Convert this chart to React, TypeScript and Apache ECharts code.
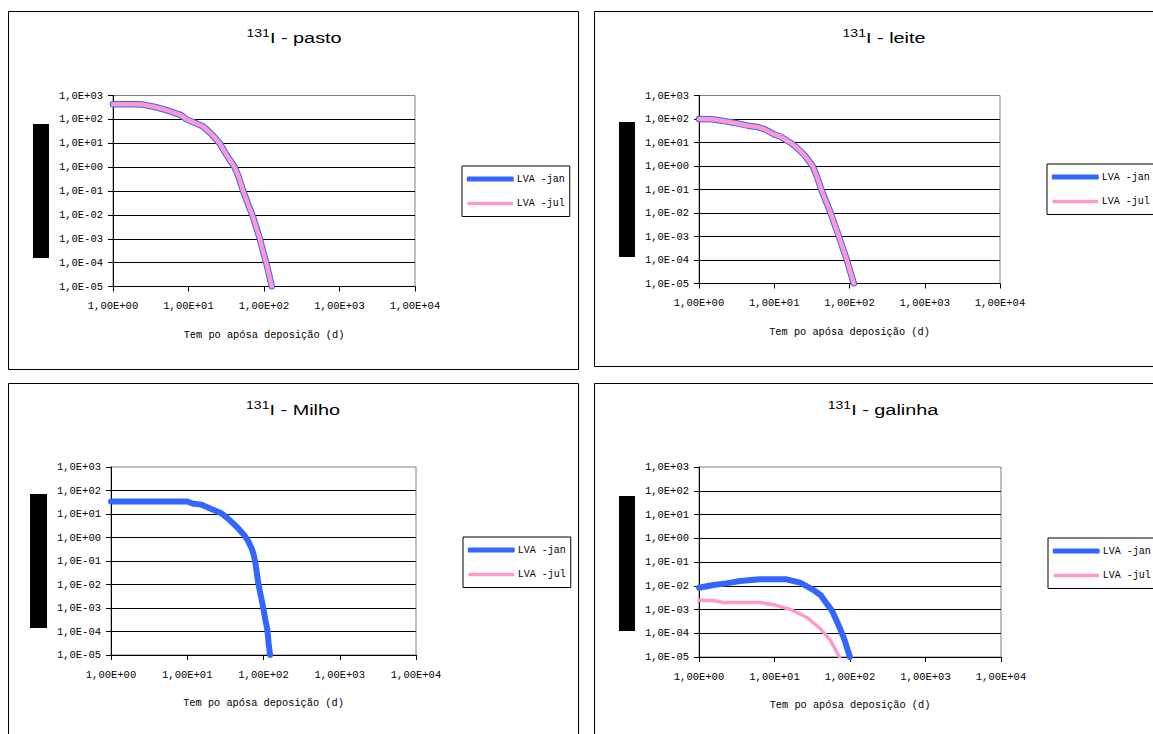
import React, { useEffect, useRef } from "react";
import * as echarts from "echarts";

// Tick labels for the log axes (decades)
const X_TICKS = ["1,00E+00", "1,00E+01", "1,00E+02", "1,00E+03", "1,00E+04"];
const Y_TICKS = [
  "1,0E-05", "1,0E-04", "1,0E-03", "1,0E-02", "1,0E-01",
  "1,0E+00", "1,0E+01", "1,0E+02", "1,0E+03",
];
const SERIES_NAMES = ["LVA -jan", "LVA -jul"];
const X_TITLE = "Tem po apósa deposição (d)";
const ISOTOPE = "131";
const PANEL_NAMES = ["pasto", "leite", "Milho", "galinha"];

// [days after deposition, concentration]
const pastoJan = [
  [1, 430], [2, 430], [2.5, 415], [3.6, 330], [5, 250], [8, 150], [9.4, 100],
  [13, 65], [15.6, 50], [20, 25], [25.8, 10], [32, 3.2], [40.7, 1], [46, 0.4],
  [53, 0.1], [61, 0.03], [70, 0.01], [79, 0.003], [88, 1e-3], [97, 3e-4],
  [107, 1e-4], [117, 3e-5], [127, 1e-5],
];
const pastoJul = [
  [1, 430], [2, 430], [2.5, 415], [3.6, 330], [5, 250], [8, 150], [9.4, 100],
  [13, 65], [15.6, 50], [20, 25], [25.8, 10], [32, 3.2], [40.7, 1], [46, 0.4],
  [53, 0.1], [61, 0.03], [70, 0.01], [79, 0.003], [88, 1e-3], [97, 3e-4],
  [107, 1e-4], [117, 3e-5], [127, 1e-5],
];
const leiteJan = [
  [1, 100], [1.5, 97], [2, 85], [3, 68], [4.5, 52], [6, 46], [7.5, 36],
  [10, 22], [12, 18], [16.3, 10], [20, 6], [25, 3], [32.4, 1], [37, 0.35],
  [42.2, 0.1], [49, 0.03], [56.2, 0.01], [64, 0.003], [72.4, 1e-3], [82, 3e-4],
  [92.3, 1e-4], [103, 3e-5], [114, 1e-5],
];
const leiteJul = [
  [1, 100], [1.5, 97], [2, 85], [3, 68], [4.5, 52], [6, 46], [7.5, 36],
  [10, 22], [12, 18], [16.3, 10], [20, 6], [25, 3], [32.4, 1], [37, 0.35],
  [42.2, 0.1], [49, 0.03], [56.2, 0.01], [64, 0.003], [72.4, 1e-3], [82, 3e-4],
  [92.3, 1e-4], [103, 3e-5], [114, 1e-5],
];
const milhoJan = [
  [1, 34], [2, 34], [5, 34], [10, 34], [11.7, 28], [15.4, 25], [20, 17],
  [28, 10.7], [34, 6.5], [40, 4], [48, 2.2], [56, 1.26], [63, 0.7], [70, 0.34],
  [74, 0.2], [78, 0.09], [82, 0.03], [85, 0.0126], [92, 3.4e-3], [100, 9e-4],
  [106, 3e-4], [112, 1.26e-4], [117, 3e-5], [122, 1e-5],
];
const milhoJul: number[][] = [];
const galinhaJan = [
  [1, 8.2e-3], [1.55, 0.0107], [2.3, 0.0126], [3.5, 0.0158], [6.4, 0.0186],
  [10, 0.019], [14.4, 0.0186], [21.9, 0.0135], [33, 6.6e-3], [41, 4e-3],
  [49, 1.8e-3], [57.5, 9e-4], [66, 3.5e-4], [75, 1.4e-4], [85, 5e-5], [100, 1e-5],
];
const galinhaJul = [
  [1, 2.46e-3], [1.55, 2.4e-3], [2.1, 1.96e-3], [6.4, 1.96e-3], [9.8, 1.6e-3],
  [16.3, 1e-3], [27, 4.6e-4], [40.5, 1.55e-4], [55, 5e-5], [72.5, 1e-5],
];

const SERIES_DATA = [
  [pastoJan, pastoJul],
  [leiteJan, leiteJul],
  [milhoJan, milhoJul],
  [galinhaJan, galinhaJul],
];

const BLUE = "#3366ff";
const PINK = "#ff99cc";
const MONO = "'Liberation Mono', 'DejaVu Sans Mono', monospace";
const SANS = "'Liberation Sans', Arial, sans-serif";

// Layout of the four chart boxes
const LAYOUT = [
  {
    frame: [8.5, 11.5, 570, 358], grid: { left: 113, top: 95.5, width: 302, height: 191 },
    legend: { left: 462, top: 166 }, mask: [33, 124, 16, 134], title: [294, 37.5],
    janWidth: 6.5, julWidth: 4.5,
  },
  {
    frame: [594.5, 11.5, 620, 355], grid: { left: 699, top: 95.5, width: 301, height: 188 },
    legend: { left: 1047, top: 164 }, mask: [619, 122, 16, 135], title: [884, 37.5],
    janWidth: 6.5, julWidth: 4.5,
  },
  {
    frame: [8.5, 383.5, 570, 400], grid: { left: 111, top: 467, width: 305, height: 188 },
    legend: { left: 463, top: 537 }, mask: [30, 494, 17, 134], title: [293, 410],
    janWidth: 6, julWidth: 3,
  },
  {
    frame: [594.5, 383.5, 620, 400], grid: { left: 699, top: 467, width: 302, height: 190 },
    legend: { left: 1048, top: 538 }, mask: [619, 496, 16, 135], title: [883, 410],
    janWidth: 6, julWidth: 3.5,
  },
];

const decade = (v: number) => Math.round(Math.log10(v));

export default function App() {
  const ref = useRef<HTMLDivElement>(null);

  useEffect(() => {
    if (!ref.current) return;
    const chart = echarts.init(ref.current, undefined, { renderer: "svg" });

    const grids: any[] = [];
    const xAxes: any[] = [];
    const yAxes: any[] = [];
    const series: any[] = [];
    const legends: any[] = [];
    const graphics: any[] = [];

    LAYOUT.forEach((p, i) => {
      graphics.push({
        type: "rect",
        z: -10,
        shape: { x: p.frame[0], y: p.frame[1], width: p.frame[2], height: p.frame[3] },
        style: { fill: "#fff", stroke: "#000", lineWidth: 1 },
        silent: true,
      });
      graphics.push({
        type: "rect",
        z: 1,
        shape: { x: p.mask[0], y: p.mask[1], width: p.mask[2], height: p.mask[3] },
        style: { fill: "#000" },
        silent: true,
      });
      graphics.push({
        type: "text",
        z: 1,
        x: p.title[0],
        y: p.title[1],
        scaleX: 1.28,
        style: {
          text: `{s|${ISOTOPE}}{m|I - ${PANEL_NAMES[i]}}`,
          align: "center",
          verticalAlign: "middle",
          fill: "#000",
          rich: {
            s: { fontSize: 11, fontFamily: SANS, fill: "#000", verticalAlign: "top", lineHeight: 19 },
            m: { fontSize: 15.5, fontFamily: SANS, fill: "#000", lineHeight: 19 },
          },
        },
        silent: true,
      });

      grids.push({
        ...p.grid,
        show: true,
        backgroundColor: "#fff",
        borderColor: "#808080",
        borderWidth: 1,
      });

      xAxes.push({
        type: "log",
        logBase: 10,
        gridIndex: i,
        min: 1,
        max: 10000,
        splitNumber: 4,
        axisLine: { show: true, onZero: false, lineStyle: { color: "#000", width: 1 } },
        axisTick: { show: true, length: 5, lineStyle: { color: "#000" } },
        minorTick: { show: false },
        splitLine: { show: false },
        axisLabel: {
          color: "#000",
          fontFamily: MONO,
          fontSize: 10.5,
          margin: 14,
          formatter: (v: number) => X_TICKS[decade(v)] ?? "",
        },
        name: X_TITLE,
        nameLocation: "middle",
        nameGap: 43,
        nameTextStyle: { color: "#000", fontFamily: MONO, fontSize: 10.3 },
      });

      yAxes.push({
        type: "log",
        logBase: 10,
        gridIndex: i,
        min: 1e-5,
        max: 1e3,
        splitNumber: 8,
        axisLine: { show: true, onZero: false, lineStyle: { color: "#000", width: 1 } },
        axisTick: { show: true, length: 5, lineStyle: { color: "#000" } },
        minorTick: { show: false },
        splitLine: {
          show: true,
          showMaxLine: false,
          lineStyle: { color: "#000", width: 1 },
        },
        axisLabel: {
          color: "#000",
          fontFamily: MONO,
          fontSize: 10.5,
          margin: 10,
          formatter: (v: number) => Y_TICKS[decade(v) + 5] ?? "",
        },
      });

      const [jan, jul] = SERIES_DATA[i];
      series.push({
        name: SERIES_NAMES[0],
        type: "line",
        xAxisIndex: i,
        yAxisIndex: i,
        data: jan,
        showSymbol: false,
        symbol: "none",
        lineStyle: { color: BLUE, width: p.janWidth, cap: "round", join: "round" },
        itemStyle: { color: BLUE },
        z: 3,
      });
      series.push({
        name: SERIES_NAMES[1],
        type: "line",
        xAxisIndex: i,
        yAxisIndex: i,
        data: jul,
        showSymbol: false,
        symbol: "none",
        lineStyle: { color: PINK, width: p.julWidth, cap: "round", join: "round" },
        itemStyle: { color: PINK },
        z: 4,
      });

      legends.push({
        left: p.legend.left,
        top: p.legend.top,
        orient: "vertical",
        selectedMode: false,
        backgroundColor: "#fff",
        borderColor: "#000",
        borderWidth: 1,
        borderRadius: 0,
        padding: [7, 5, 7, 4],
        itemGap: 12.5,
        itemWidth: 47,
        itemHeight: 5,
        data: [
          { name: SERIES_NAMES[0], icon: "roundRect", itemStyle: { color: BLUE, borderWidth: 0 } },
          {
            name: SERIES_NAMES[1],
            icon: "roundRect",
            itemStyle: { color: PINK, borderColor: "#fff", borderWidth: 1.5 },
          },
        ],
        textStyle: { color: "#000", fontFamily: MONO, fontSize: 10, lineHeight: 12, padding: [0, 0, 0, -2] },
      });
    });

    chart.setOption({
      animation: false,
      backgroundColor: "#fff",
      graphic: graphics,
      grid: grids,
      xAxis: xAxes,
      yAxis: yAxes,
      legend: legends,
      series,
    });

    return () => chart.dispose();
  }, []);

  return (
    <div
      ref={ref}
      style={{ position: "fixed", left: 0, top: 0, width: 1153, height: 734 }}
    />
  );
}
